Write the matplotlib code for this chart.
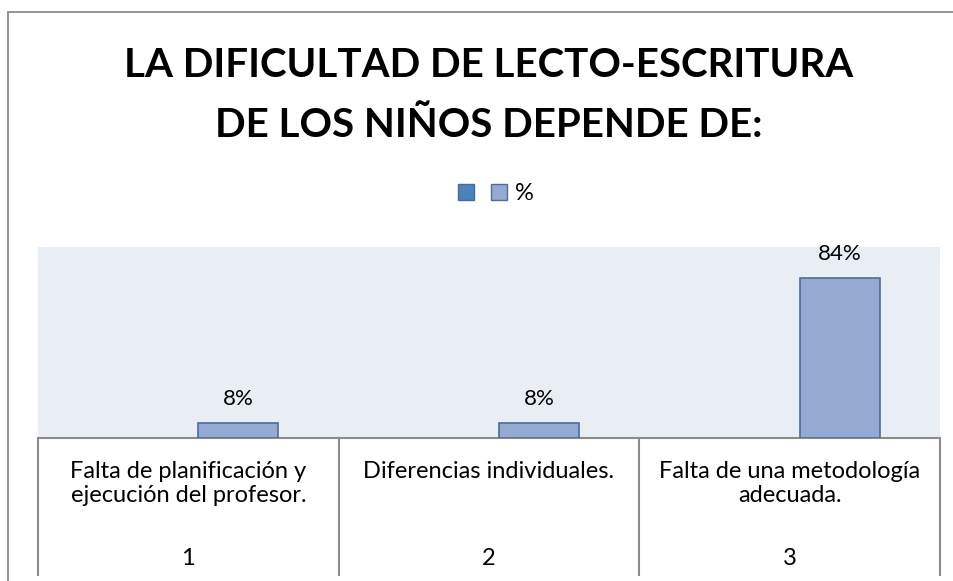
import matplotlib
matplotlib.use("Agg")
import matplotlib.pyplot as plt
from matplotlib import transforms
from matplotlib.patches import Patch, Rectangle

plt.rcParams['font.family'] = ['Lato', 'DejaVu Sans']

title_lines = ["LA DIFICULTAD DE LECTO-ESCRITURA", "DE LOS NIÑOS DEPENDE DE:"]
categories = ["Falta de planificación y\nejecución del profesor.",
              "Diferencias individuales.",
              "Falta de una metodología\nadecuada."]
cat_numbers = ["1", "2", "3"]
percent = [8, 8, 84]
value_labels = ["8%", "8%", "84%"]
legend_labels = ["", "%"]

W, H = 954, 581
fig = plt.figure(figsize=(W / 100, H / 100), dpi=100)


def fx(px):
    return px / W


def fy(py):
    return 1 - py / H


grey = "#8c8c8c"
dark_blue = "#4F81BD"
light_blue = "#95A9D1"
bar_edge = "#4A6E9E"

# chart frame (runs off the right and bottom edges)
fig.patches.append(Rectangle((fx(8), -0.2), 2, fy(12) + 0.2, transform=fig.transFigure,
                             fill=False, ec=grey, lw=1.3))

# title
for k, line in enumerate(title_lines):
    fig.text(fx(489), fy(77 + 60 * k), line, ha="center", va="baseline",
             fontsize=29, fontweight="bold")

ax = fig.add_axes([fx(38), fy(438), fx(940) - fx(38), fy(247) - fy(438)])
ax.set_facecolor("#E9EDF4")
ax.set_xlim(-0.5, 2.5)
ax.set_ylim(0, 100)
for side in ["top", "right", "left"]:
    ax.spines[side].set_visible(False)
ax.spines["bottom"].set_color(grey)
ax.spines["bottom"].set_linewidth(1.5)
ax.set_xticks([])
ax.set_yticks([])

x = range(len(percent))
xs = [i + 0.166 for i in x]
ax.bar(xs, percent, width=0.266, color=light_blue, edgecolor=bar_edge, lw=1.2, zorder=3)
for xi, v, lab in zip(xs, percent, value_labels):
    ax.annotate(lab, (xi, v), xytext=(0, 13), textcoords="offset points",
                ha="center", va="baseline", fontsize=16)

# category table under the axis
trans = transforms.blended_transform_factory(ax.transData, fig.transFigure)
for b in [-0.5, 0.5, 1.5, 2.5]:
    ax.plot([b, b], [fy(438), fy(575)], color=grey, lw=1.5, transform=trans, clip_on=False)
for i, (cat, num) in enumerate(zip(categories, cat_numbers)):
    for k, line in enumerate(cat.split("\n")):
        ax.text(i, fy(478 + 24 * k), line, transform=trans, ha="center", va="baseline",
                fontsize=17)
    ax.text(i, fy(565), num, transform=trans, ha="center", va="baseline", fontsize=17)

handles = [Patch(fc=dark_blue, ec="#3F6C9F"), Patch(fc=light_blue, ec=bar_edge)]
fig.legend(handles, legend_labels, ncol=2, frameon=False, loc="center",
           bbox_to_anchor=(fx(496), fy(194)), fontsize=17,
           handlelength=0.68, handleheight=0.68, handletextpad=0.35, columnspacing=0.38,
           borderpad=0, borderaxespad=0)

fig.savefig("out.png", dpi=100)
